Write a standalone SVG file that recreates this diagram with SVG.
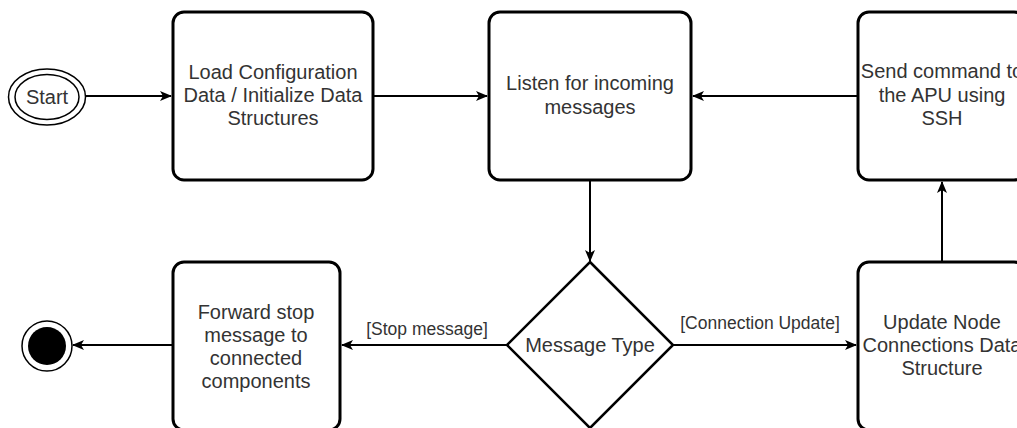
<svg xmlns="http://www.w3.org/2000/svg" width="1017" height="428" viewBox="0 0 1017 428">
<style>
.box{fill:#fff;stroke:#000;stroke-width:3}
.edge{fill:none;stroke:#000;stroke-width:2}
.t{font-family:"Liberation Sans",Arial,sans-serif;font-size:20px;fill:#333;text-anchor:middle}
.lbl{font-family:"Liberation Sans",Arial,sans-serif;font-size:17.5px;fill:#333;text-anchor:middle}
</style>
<defs>
<marker id="arr" markerWidth="12" markerHeight="10" refX="11" refY="5" orient="auto" markerUnits="userSpaceOnUse">
<path d="M0,0 L12,5 L0,10 L3,5 Z" fill="#000"/>
</marker>
</defs>
<rect width="1017" height="428" fill="#fff"/>
<g id="connectors">
<line class="edge" x1="86" y1="96" x2="171" y2="96" marker-end="url(#arr)"/>
<line class="edge" x1="373" y1="96" x2="487" y2="96" marker-end="url(#arr)"/>
<line class="edge" x1="858" y1="96" x2="693" y2="96" marker-end="url(#arr)"/>
<line class="edge" x1="590" y1="180" x2="590" y2="261" marker-end="url(#arr)"/>
<line class="edge" x1="942" y1="262" x2="942" y2="182" marker-end="url(#arr)"/>
<line class="edge" x1="674" y1="345" x2="856" y2="345" marker-end="url(#arr)"/>
<line class="edge" x1="507" y1="345" x2="342" y2="345" marker-end="url(#arr)"/>
<line class="edge" x1="173" y1="345" x2="73" y2="345" marker-end="url(#arr)"/>
<text class="lbl" x="760" y="329">[Connection Update]</text>
<text class="lbl" x="427" y="335">[Stop message]</text>
</g>
<g id="start">
<ellipse cx="47" cy="97" rx="38.5" ry="28" fill="#fff" stroke="#000" stroke-width="1.5"/>
<ellipse cx="47" cy="97" rx="32" ry="22.5" fill="#fff" stroke="#000" stroke-width="1.5"/>
<text class="t" x="47" y="104">Start</text>
</g>
<g id="load">
<rect class="box" x="173" y="12" width="200" height="168" rx="11"/>
<text class="t" x="273" y="79">Load Configuration</text>
<text class="t" x="273" y="102">Data / Initialize Data</text>
<text class="t" x="273" y="125">Structures</text>
</g>
<g id="listen">
<rect class="box" x="489" y="12" width="202" height="168" rx="11"/>
<text class="t" x="590" y="90">Listen for incoming</text>
<text class="t" x="590" y="114">messages</text>
</g>
<g id="send">
<rect class="box" x="858" y="12" width="167" height="168" rx="11"/>
<text class="t" x="942" y="78">Send command to</text>
<text class="t" x="942" y="102">the APU using</text>
<text class="t" x="942" y="125">SSH</text>
</g>
<g id="update">
<rect class="box" x="858" y="262" width="167" height="168" rx="11"/>
<text class="t" x="942" y="329">Update Node</text>
<text class="t" x="942" y="352">Connections Data</text>
<text class="t" x="942" y="375">Structure</text>
</g>
<g id="decision">
<polygon points="590,262 673,345 590,428 507,345" fill="#fff" stroke="#000" stroke-width="2.5"/>
<text class="t" x="590" y="352">Message Type</text>
</g>
<g id="forward">
<rect class="box" x="173" y="262" width="167" height="168" rx="11"/>
<text class="t" x="256" y="319">Forward stop</text>
<text class="t" x="256" y="342">message to</text>
<text class="t" x="256" y="365">connected</text>
<text class="t" x="256" y="388">components</text>
</g>
<g id="end">
<circle cx="47" cy="346" r="25" fill="#fff" stroke="#000" stroke-width="1.5"/>
<circle cx="47" cy="346" r="19" fill="#000"/>
</g>
</svg>
